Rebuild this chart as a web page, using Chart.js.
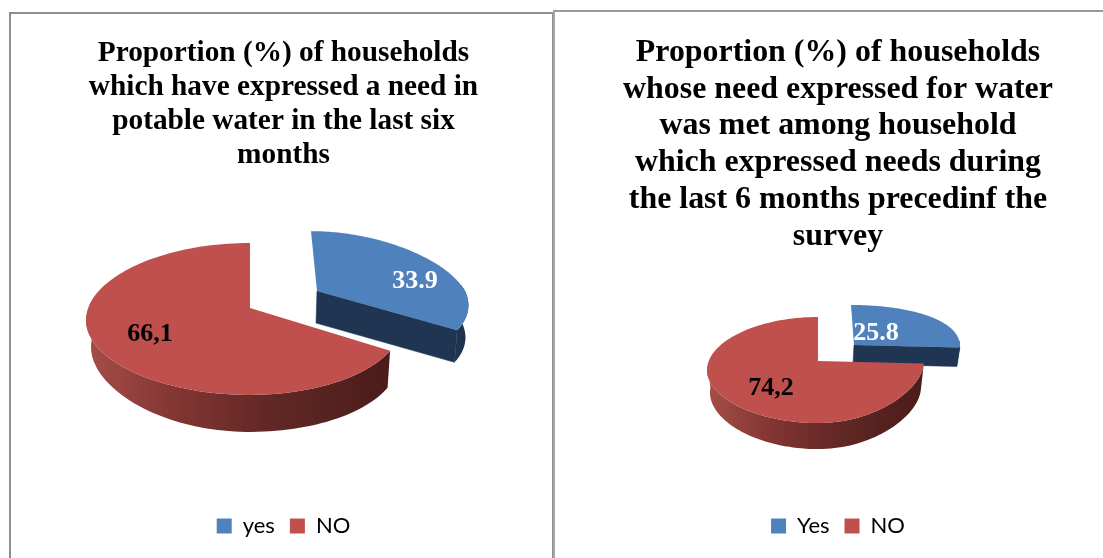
<!DOCTYPE html>
<html>
<head>
<meta charset="utf-8">
<title>Households water needs</title>
<script src="https://cdn.jsdelivr.net/npm/chart.js@4"></script>
<style>
    html, body { margin: 0; padding: 0; background: #fff; overflow: hidden; }
    .panel { position: absolute; box-sizing: border-box; background: #fff; }
    #panel-left { left: 9px; top: 12px; width: 545px; height: 546px; border: 2px solid #8e8e8e; border-bottom: 0; }
    #panel-right { left: 553px; top: 10px; width: 550px; height: 548px; border-top: 2px solid #9a9a9a; border-left: 2px solid #a6a6a6; }
</style>
</head>
<body>
<div class="panel" id="panel-left"><canvas id="chart-left"></canvas></div>
<div class="panel" id="panel-right"><canvas id="chart-right"></canvas></div>
<script>
const leftTitle = ['Proportion (%) of households', 'which have expressed a need in', 'potable water in the last six', 'months'];
const leftLabels = ['yes', 'NO'];
const leftValues = [33.9, 66.1];
const leftValueText = ['33.9', '66,1'];

const rightTitle = ['Proportion (%) of households', 'whose need expressed for water', 'was met among household', 'which expressed needs during', 'the last 6 months precedinf the', 'survey'];
const rightLabels = ['Yes', 'NO'];
const rightValues = [25.8, 74.2];
const rightValueText = ['25.8', '74,2'];

const sliceColors = ['#4f81bd', '#c0504d'];
const labelColors = ['#ffffff', '#000000'];

// the pie is tilted, so every arc the library works out goes through this
function project(opts, index, angle) {
    const u = Math.cos(angle);
    const v = Math.sin(angle);
    const move = opts.explode[index];
    const rx = u < 0 ? opts.rxLeft : opts.rxRight * (1 + opts.spread * v);
    let x = opts.apex[0] + move[0] + rx * u;
    let y = opts.apex[1] + move[1] + opts.ry * v / (1 - opts.persp * v) * opts.squash[index];
    if (u < 0) y += opts.leftDrop * u * u;
    if (v < 0) x += opts.lean[index] * v;
    return { x, y, u, v };
}

function lowerEdge(opts, index, p) {
    const depth = opts.depth[index];
    if (p.u < 0) {
        return { x: p.x + opts.leftInset * p.u * p.u, y: p.y + depth * (1 - opts.leftThin * p.u * p.u) };
    }
    return { x: p.x - opts.rightInset * p.u, y: p.y + depth };
}

function sampleArc(opts, index, arc) {
    const pts = [];
    const steps = 120;
    for (let i = 0; i <= steps; i++) {
        pts.push(project(opts, index, arc.startAngle + (arc.endAngle - arc.startAngle) * i / steps));
    }
    return pts;
}

function tracePath(ctx, pts) {
    ctx.beginPath();
    pts.forEach((p, i) => {
        if (i === 0) ctx.moveTo(p.x, p.y);
        else ctx.lineTo(p.x, p.y);
    });
    ctx.closePath();
}

const tiltedPie = {
    id: 'tiltedPie',
    beforeDatasetsDraw(chart, args, opts) {
        const ctx = chart.ctx;
        const arcs = chart.getDatasetMeta(0).data;
        ctx.save();
        arcs.forEach((arc, index) => {
            const pts = sampleArc(opts, index, arc);
            const apex = {
                x: opts.apex[0] + opts.explode[index][0],
                y: opts.apex[1] + opts.explode[index][1]
            };

            // outer wall, only the part turned to the viewer
            const front = pts.filter(p => p.v > -0.1);
            const lower = front.map(p => lowerEdge(opts, index, p));
            const wall = front.concat(lower.slice().reverse());
            const xs = front.map(p => p.x);
            const grad = ctx.createLinearGradient(Math.min(...xs), 0, Math.max(...xs), 0);
            opts.wallStops[index].forEach(s => grad.addColorStop(s[0], s[1]));
            tracePath(ctx, wall);
            ctx.fillStyle = grad;
            ctx.fill();

            // cut face that looks at the viewer
            if (index === 0) {
                const corner = pts[pts.length - 1];
                const cornerLow = lowerEdge(opts, index, corner);
                tracePath(ctx, [apex, corner, cornerLow, { x: apex.x - 1, y: apex.y + opts.depth[index] }]);
                ctx.fillStyle = '#1f3552';
                ctx.strokeStyle = '#1f3552';
                ctx.lineWidth = 0.6;
                ctx.fill();
                ctx.stroke();
            }

            // top face
            tracePath(ctx, [apex].concat(pts));
            ctx.fillStyle = arc.options.backgroundColor;
            ctx.fill();
        });
        ctx.restore();
        return false;
    },
    // afterDatasetsDraw is skipped once the dataset draw is cancelled
    afterDraw(chart, args, opts) {
        const ctx = chart.ctx;
        ctx.save();
        ctx.font = 'bold ' + opts.labelSize + 'px "Liberation Serif"';
        ctx.textAlign = 'center';
        ctx.textBaseline = 'middle';
        opts.valueText.forEach((text, index) => {
            ctx.fillStyle = labelColors[index];
            ctx.fillText(text,
                opts.apex[0] + opts.explode[index][0] + opts.labelAt[index][0],
                opts.apex[1] + opts.explode[index][1] + opts.labelAt[index][1]);
        });
        ctx.restore();
    }
};

const wallBlue = [[0, '#1f3552'], [1, '#1b2e48']];
const wallRed = [[0, '#a64d49'], [0.3, '#823532'], [0.6, '#622825'], [1, '#4a1c1a']];

function makeChart(id, labels, values, title, titleSize, titleHeight, padding, radius, pie) {
    return new Chart(document.getElementById(id), {
        type: 'pie',
        data: {
            labels: labels,
            datasets: [{ data: values, backgroundColor: sliceColors, borderWidth: 0 }]
        },
        plugins: [tiltedPie],
        options: {
            responsive: true,
            maintainAspectRatio: false,
            animation: false,
            radius: radius,
            layout: { padding: padding },
            plugins: {
                title: {
                    display: true,
                    text: title,
                    color: '#000000',
                    font: { family: '"Liberation Serif"', size: titleSize, weight: 'bold', lineHeight: titleHeight },
                    padding: { top: 0, bottom: 0 }
                },
                legend: {
                    position: 'bottom',
                    labels: {
                        color: '#000000',
                        boxWidth: 15,
                        boxHeight: 15,
                        padding: 15,
                        font: { family: 'Lato', size: 22 }
                    }
                },
                tooltip: { enabled: false },
                tiltedPie: pie
            }
        }
    });
}

makeChart('chart-left', leftLabels, leftValues, leftTitle, 29.3, 1.16,
    { top: 22, bottom: 11, left: 4, right: 0 }, 164, {
        apex: [239, 294],
        explode: [[67, -17], [0, 0]],
        rxLeft: 164, rxRight: 148, spread: 0.22,
        ry: 74.4, persp: 0.144, leftDrop: 12,
        squash: [0.92, 1], lean: [6, 0],
        depth: [32, 37], leftInset: 5, leftThin: 0.27, rightInset: 3,
        wallStops: [wallBlue, wallRed],
        valueText: leftValueText, labelSize: 26,
        labelAt: [[98, -10], [-100, 26]]
    });

makeChart('chart-right', rightLabels, rightValues, rightTitle, 31.9, 1.155,
    { top: 22, bottom: 11, left: 18, right: 0 }, 111, {
        apex: [263, 349],
        explode: [[36, -16], [0, 0]],
        rxLeft: 111, rxRight: 106, spread: 0,
        ry: 51.5, persp: 0.17, leftDrop: 9,
        squash: [0.91, 1], lean: [3, 0],
        depth: [19, 26], leftInset: 3, leftThin: 0.12, rightInset: 3,
        wallStops: [wallBlue, wallRed],
        valueText: rightValueText, labelSize: 26,
        labelAt: [[22, -12], [-47, 27]]
    });
</script>
</body>
</html>
